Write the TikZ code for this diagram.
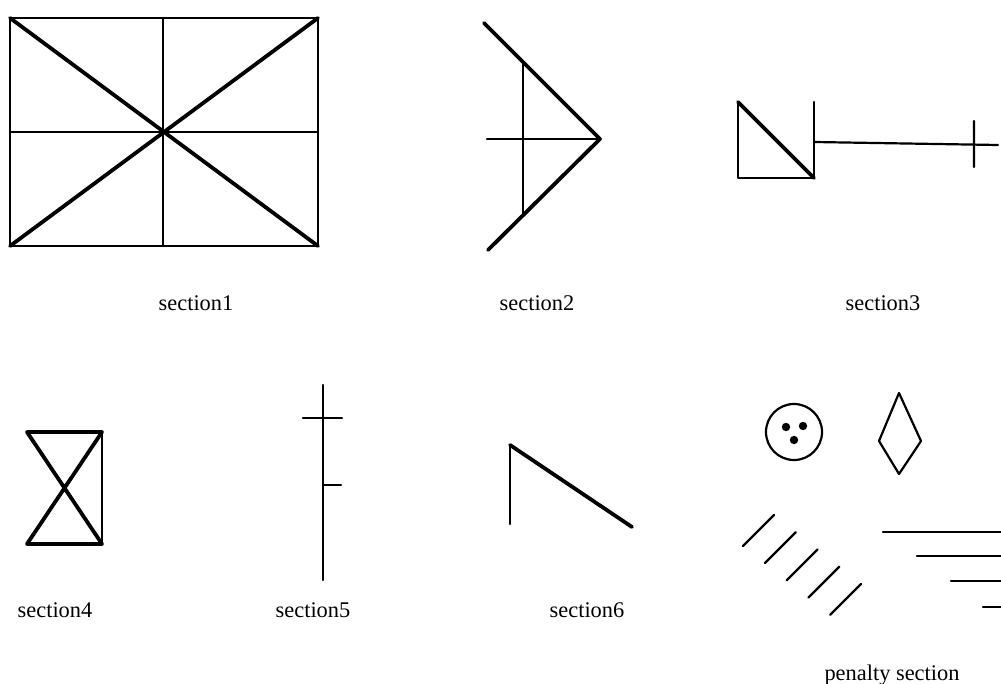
\documentclass[tikz,border=0pt]{standalone}
\usepackage{fontspec}
\setmainfont{Liberation Serif}
\tikzset{
  every picture/.style={line join=round, line cap=round},
  gridline/.style={line width=1.1pt},
  boldline/.style={line width=1.9pt},
  caption/.style={anchor=base, inner sep=0pt, font=\fontsize{11.2}{13}\selectfont},
}

\begin{document}
\begin{tikzpicture}[x=0.5pt,y=-0.5pt]
\useasboundingbox (0,0) rectangle (1001,684);
% section1
\draw[gridline](10,18)rectangle(318,246);
\draw[gridline](163,18)--(163,246) (10,132)--(318,132);
\draw[boldline](10,18)--(318,246) (10,246)--(318,18);
% section2
\draw[boldline](484,23)--(600,139)--(488,250);
\draw[gridline](523,61)--(523,214) (487,139)--(600,139);
% section3
\draw[gridline](814,102)--(814,178)--(738,178)--(738,102);
\draw[boldline](738,102)--(814,178);
\draw[gridline](814,142)--(998,145) (974,121)--(974,167);
% section4
\draw[boldline](27,432)--(102,432)--(27,544)--(102,544)--cycle;
\draw[gridline](102,432)--(102,544);
% section5
\draw[gridline](323,385)--(323,580);
\draw[gridline](303,418)--(342,418) (323,485)--(341,485);
% section6
\draw[gridline](510,524)--(510,445);
\draw[boldline](510,445)--(632,527);
% penalty section
\draw[gridline](794,432)circle[radius=14pt];
\fill(786,427)circle[radius=2.1pt] (803,426)circle[radius=2.1pt] (794,440)circle[radius=2.1pt];
\draw[gridline](899,393)--(921,441)--(899,474)--(879,441)--cycle;
\foreach \i in {0,...,4}
  \draw[gridline]({743+21.8*\i},{546+17.2*\i})--({774+21.8*\i},{515+17.2*\i});
\foreach \x/\y in {883/532,917/556,951/581,983/607}
  \draw[gridline](\x,\y)--(1001,\y);
% labels
\node[caption](sec1) at (196,310){section1};
\node[caption](sec2) at (537,310){section2};
\node[caption](sec3) at (883,310){section3};
\node[caption](sec4) at (55,617){section4};
\node[caption](sec5) at (313,617){section5};
\node[caption](sec6) at (587,617){section6};
\node[caption](pen) at (892,680){penalty section};
\end{tikzpicture}
\end{document}
